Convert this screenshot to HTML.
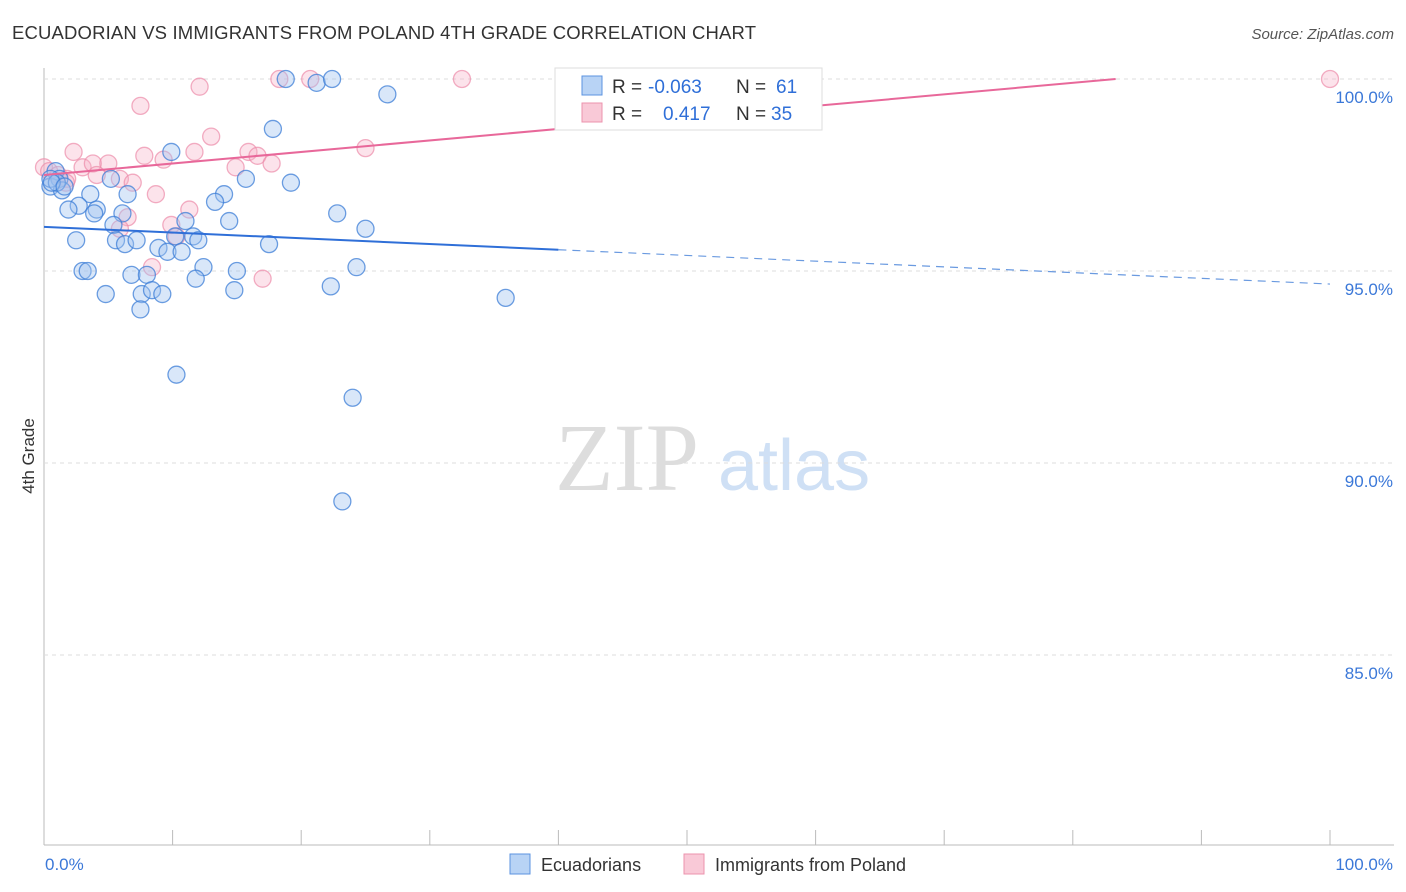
<!DOCTYPE html>
<html><head><meta charset="utf-8"><style>
body{margin:0;background:#fff;font-family:"Liberation Sans",sans-serif}
svg{display:block}
</style></head><body>
<svg id="chart" width="1406" height="892">
<text x="12" y="39" font-size="18.5" fill="#333" textLength="744">ECUADORIAN VS IMMIGRANTS FROM POLAND 4TH GRADE CORRELATION CHART</text>
<text x="1394" y="39" font-size="15" fill="#555" text-anchor="end" font-style="italic">Source: ZipAtlas.com</text>
<text x="34" y="456" font-size="17" fill="#333" text-anchor="middle" transform="rotate(-90 34 456)">4th Grade</text>
<g><text x="555" y="490" font-size="96" fill="#ddd" font-family="Liberation Serif,serif">ZIP</text><text x="718" y="490" font-size="72" fill="#cfe0f5">atlas</text></g>
<g id="grid"></g><g id="pts"></g><g id="lines"></g>
<g>
<rect x="555" y="68" width="267" height="62" fill="#fff" stroke="#ddd"/>
<rect x="582" y="76" width="20" height="19" fill="#b8d3f5" stroke="#5b93e0"/>
<rect x="582" y="103" width="20" height="19" fill="#f9c9d7" stroke="#ec93ae"/>
<text x="612" y="93" font-size="19" fill="#333">R =</text>
<text x="648" y="93" font-size="19" fill="#2f6fd8">-0.063</text>
<text x="736" y="93" font-size="19" fill="#333">N =</text>
<text x="776" y="93" font-size="19" fill="#2f6fd8">61</text>
<text x="612" y="120" font-size="19" fill="#333">R =</text>
<text x="663" y="120" font-size="19" fill="#2f6fd8">0.417</text>
<text x="736" y="120" font-size="19" fill="#333">N =</text>
<text x="771" y="120" font-size="19" fill="#2f6fd8">35</text>
</g>
<g>
<rect x="510" y="854" width="20" height="20" fill="#b8d3f5" stroke="#5b93e0"/>
<text x="541" y="871" font-size="18" fill="#333">Ecuadorians</text>
<rect x="684" y="854" width="20" height="20" fill="#f9c9d7" stroke="#ec93ae"/>
<text x="715" y="871" font-size="18" fill="#333">Immigrants from Poland</text>
</g>
<text x="45" y="870" font-size="17" fill="#3b78d8">0.0%</text>
<text x="1393" y="870" font-size="17" fill="#3b78d8" text-anchor="end">100.0%</text>
</svg>
<script>
const yTicks=[100,95,90,85];
const blueX=[18.8,21.2,22.4,26.7,17.8,9.9,0.9,0.5,1.2,1.4,3.6,6.5,5.2,15.7,19.2,14.0,13.3,2.7,1.9,4.1,3.9,6.1,14.4,22.8,25.0,11.0,5.4,10.2,11.6,12.0,2.5,5.6,6.3,7.2,8.9,9.6,10.7,17.5,3.0,3.4,6.8,8.0,12.4,15.0,24.3,11.8,7.6,8.4,9.2,14.8,22.3,4.8,7.5,35.9,10.3,24.0,23.2,0.5,1.0,0.6,1.6];
const blueY=[100,99.9,100,99.6,98.7,98.1,97.6,97.2,97.4,97.1,97.0,97.0,97.4,97.4,97.3,97.0,96.8,96.7,96.6,96.6,96.5,96.5,96.3,96.5,96.1,96.3,96.2,95.9,95.9,95.8,95.8,95.8,95.7,95.8,95.6,95.5,95.5,95.7,95.0,95.0,94.9,94.9,95.1,95.0,95.1,94.8,94.4,94.5,94.4,94.5,94.6,94.4,94.0,94.3,92.3,91.7,89.0,97.4,97.3,97.3,97.2];
const pinkX=[0,0.4,1.1,2.3,3.0,3.8,5.0,4.1,1.8,5.9,6.9,7.5,12.1,18.3,20.7,32.5,100,13.0,11.7,7.8,9.3,14.9,15.9,16.6,17.7,25.0,8.7,6.5,11.3,9.9,10.3,8.4,17.0,5.9,1.7];
const pinkY=[97.7,97.6,97.5,98.1,97.7,97.8,97.8,97.5,97.4,97.4,97.3,99.3,99.8,100,100,100,100,98.5,98.1,98.0,97.9,97.7,98.1,98.0,97.8,98.2,97.0,96.4,96.6,96.2,95.9,95.1,94.8,96.1,97.3];
const blueTrend=[96.15,94.66], pinkTrend=[97.5,100.5];
const X=v=>44+v*12.86, Y=v=>79+(100-v)*38.4;
const NS='http://www.w3.org/2000/svg';
function mk(t,a,p){const e=document.createElementNS(NS,t);for(const k in a)e.setAttribute(k,a[k]);p.appendChild(e);return e;}
const grid=document.getElementById('grid');
mk('line',{x1:44,y1:68,x2:44,y2:845,stroke:'#bbb'},grid);
mk('line',{x1:44,y1:845,x2:1394,y2:845,stroke:'#bbb'},grid);
for(let i=1;i<=10;i++){mk('line',{x1:44+i*128.6,y1:830,x2:44+i*128.6,y2:845,stroke:'#bbb'},grid);}
yTicks.forEach(t=>{
 const l=mk('line',{x1:44,x2:1394,y1:Y(t),y2:Y(t),stroke:'#ddd','stroke-dasharray':'4,4'},grid);
 
 
 const tx=mk('text',{x:1393,y:Y(t)+24,'font-size':17,fill:'#3b78d8','text-anchor':'end'},grid);
 tx.textContent=t.toFixed(1)+'%';
 
 
});
const pts=document.getElementById('pts');
pinkX.forEach((x,i)=>{const c=mk('circle',{cx:X(x),cy:Y(pinkY[i]),r:8.5,fill:'rgba(246,176,198,0.35)',stroke:'rgba(236,140,170,0.7)','stroke-width':1.3},pts);
 
 });
blueX.forEach((x,i)=>{const c=mk('circle',{cx:X(x),cy:Y(blueY[i]),r:8.5,fill:'rgba(160,196,240,0.4)',stroke:'rgba(60,125,215,0.75)','stroke-width':1.3},pts);
 
 });
const lines=document.getElementById('lines');
const bAt=x=>blueTrend[0]+(blueTrend[1]-blueTrend[0])*x/100;
let l1=mk('line',{x1:X(0),y1:Y(bAt(0)),x2:X(40),y2:Y(bAt(40)),stroke:'#2f6fd8','stroke-width':2},lines);


let l2=mk('line',{x1:X(40),y1:Y(bAt(40)),x2:X(100),y2:Y(bAt(100)),stroke:'#6a9ae0','stroke-width':1.2,'stroke-dasharray':'8,6'},lines);


const xEnd=(100-pinkTrend[0])/(pinkTrend[1]-pinkTrend[0])*100;
let l3=mk('line',{x1:X(0),y1:Y(pinkTrend[0]),x2:X(xEnd),y2:Y(100),stroke:'#e8689a','stroke-width':2},lines);


</script>
</body></html>
